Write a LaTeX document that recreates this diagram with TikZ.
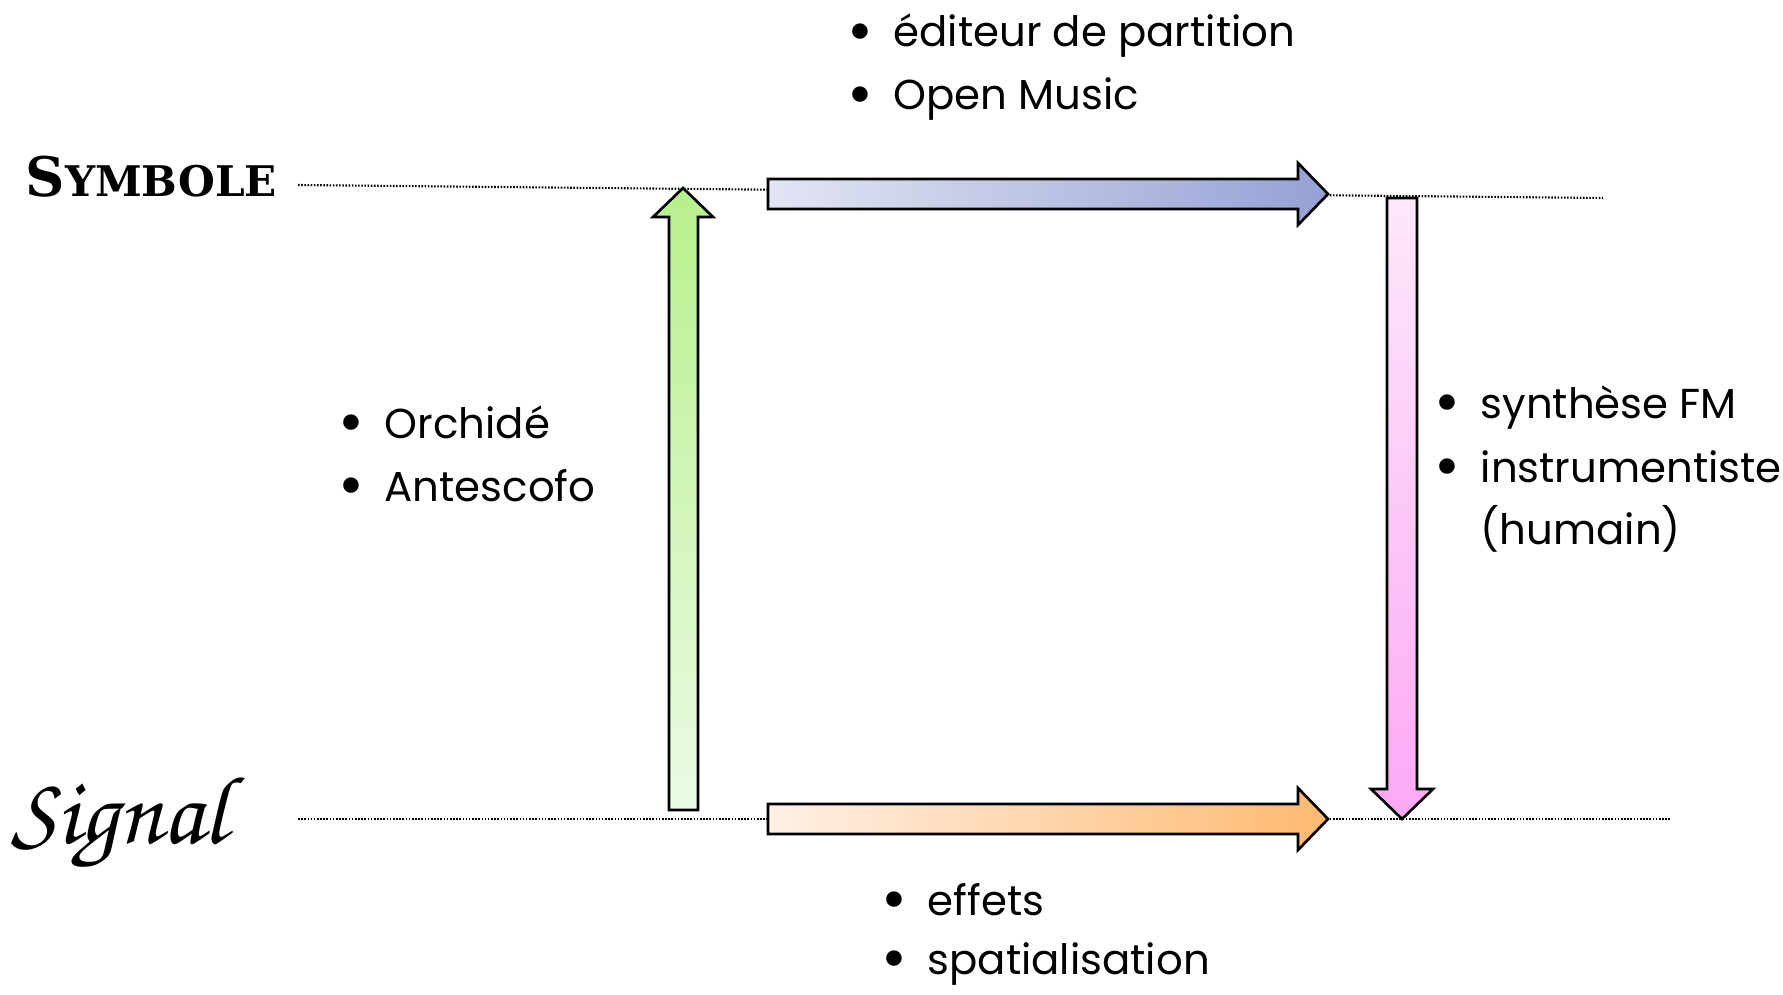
\documentclass[tikz,border=0pt]{standalone}
\usepackage{fontspec}
\setmainfont{Poppins}
\newfontfamily\titrefont{DejaVu Serif}
\usetikzlibrary{positioning}

\definecolor{bleuG}{HTML}{E2E5F3}
\definecolor{bleuD}{HTML}{95A1D5}
\definecolor{orangeG}{HTML}{FFF0E6}
\definecolor{orangeD}{HTML}{FFB970}
\definecolor{vertH}{HTML}{B8F08C}
\definecolor{vertB}{HTML}{EAFBE4}
\definecolor{roseH}{HTML}{FDE8FB}
\definecolor{roseB}{HTML}{FCA8F5}

\newcommand{\puce}{\makebox[0.46cm][l]{\raisebox{-0.12em}{\scalebox{1.5}{\textbullet}}}}
\newcommand{\sanspuce}{\makebox[0.46cm][l]{}}

\begin{document}
\begin{tikzpicture}[x=0.01cm,y=-0.01cm,line join=miter,
  niveau/.style={line width=0.6pt,dash pattern=on 0.45pt off 0.45pt},
  fleche/.style={draw=black,line width=0.75pt},
  item/.style={anchor=base west,inner sep=0pt,font=\fontsize{11.9}{15}\selectfont}]
\useasboundingbox (0,0) rectangle (1783,994);
% les deux niveaux
\node[anchor=base west,inner sep=0pt] (symbole) at (25,196) {\titrefont\bfseries{\fontsize{15.5}{16}\selectfont S}{\fontsize{12}{13}\selectfont YMBOLE}};
\node[anchor=base west,inner sep=0pt] (signal) at (11,843) {\fontencoding{OT1}\fontfamily{pzc}\fontseries{mb}\fontshape{it}\fontsize{27.5}{30}\selectfont Signal};
\coordinate (hautG) at (298,185);
\coordinate (hautD) at (1603,198);
\coordinate (basG) at (298,819);
\coordinate (basD) at (1671,819);
\draw[niveau] (hautG) -- (hautD);
\draw[niveau] (basG) -- (basD);
% fleches
\shade[fleche,left color=bleuG,right color=bleuD] (768,179) -- (1298,179) -- (1298,163) -- (1328,194) -- (1298,225) -- (1298,209) -- (768,209) -- cycle;
\shade[fleche,left color=orangeG,right color=orangeD] (768,804) -- (1298,804) -- (1298,788) -- (1328,819) -- (1298,850) -- (1298,834) -- (768,834) -- cycle;
\shade[fleche,top color=vertH,bottom color=vertB] (669,810) -- (669,217) -- (653,217) -- (683,188) -- (713,217) -- (698,217) -- (698,810) -- cycle;
\shade[fleche,top color=roseH,bottom color=roseB] (1387,198) -- (1417,198) -- (1417,789) -- (1433,789) -- (1402,819) -- (1371,789) -- (1387,789) -- cycle;
% exemples
\node[item] (editeur) at (847,47) {\puce éditeur de partition};
\node[item] (openmusic) at (847,110) {\puce Open Music};
\node[item] (orchide) at (338,438) {\puce Orchidé};
\node[item] (antescofo) at (338,501) {\puce Antescofo};
\node[item] (effets) at (881,915) {\puce effets};
\node[item] (spatial) at (881,974) {\puce spatialisation};
\node[item] (synthese) at (1434,418) {\puce synthèse FM};
\node[item] (instru) at (1434,482) {\puce instrumentiste};
\node[item] (humain) at (1434,544) {\sanspuce(humain)};
\end{tikzpicture}
\end{document}
